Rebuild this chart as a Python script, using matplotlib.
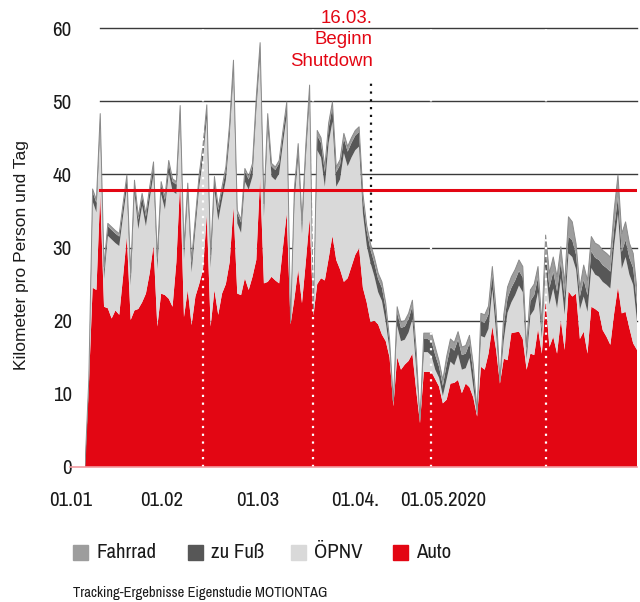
import numpy as np
import pandas as pd
import matplotlib
matplotlib.use("Agg")
import matplotlib.pyplot as plt
from matplotlib.patches import Rectangle

# ==== DATEN (km pro Person und Tag, 01.01.-25.05.2020) ====
auto = [
    0, 11, 24.5, 24.2, 37.4, 21.9, 21.7, 20.3, 21.4, 20.8,
    26, 31.5, 20.1, 21.4, 21.6, 22.5, 23.7, 26.5, 30.3, 19.2,
    23.7, 23.5, 23.0, 21.9, 28, 39.2, 20.5, 24.2, 19.4, 23.3,
    25, 27, 34.5, 19.2, 24.2, 20.8, 23.7, 25, 28, 35.6,
    23.7, 23.5, 25.8, 24.2, 26, 28.3, 39.7, 25.1, 25.3, 26,
    25.5, 25.1, 30, 34.7, 19.5, 23, 27, 22.4, 28, 34,
    20.7, 25, 25.8, 25.5, 28.5, 31.6, 28.3, 27, 25.3, 25.8,
    27.4, 29, 29.9, 24.5, 22.5, 19.8, 20, 19.5, 18.1, 17.2,
    15, 8.3, 15, 13.3, 14, 14.5, 15.5, 10.5, 6, 13,
    13, 13, 12, 11, 8.7, 9.2, 11.4, 11.5, 11.9, 10.1,
    11.4, 10.9, 9.5, 6.9, 13.7, 13.3, 15.5, 19.2, 16, 11.4,
    14.8, 14.6, 18.3, 18.4, 18.5, 17.5, 13.3, 15.5, 15.3, 18.9,
    15.5, 22.8, 16.4, 17.8, 15.5, 20.1, 16, 24, 23.3, 23.7,
    17.5, 18.5, 15.5, 21.9, 21.6, 21.2, 18.7, 17.8, 16.7, 21,
    24.6, 21, 21.2, 19, 16.9, 16]

oepnv = [
    0, 0.6, 11.8, 10.6, 9.2, 3.8, 9.9, 10.8, 9.2, 9.4,
    8.3, 6.7, 4.7, 16.1, 10.9, 13.2, 9.2, 10.1, 9.7, 7.8,
    13.6, 11.7, 17.2, 15.8, 9.3, 8.5, 7.9, 12.9, 7.2, 9.2,
    13.3, 15.2, 13.2, 8.0, 13.7, 12.9, 12.8, 14.2, 17.2, 18.2,
    9.6, 8.5, 13.2, 13.7, 13.7, 20.5, 16.5, 9.1, 21.2, 13.7,
    13.7, 15.0, 14.2, 13.4, 0.15, 13.2, 15.4, 9.5, 14.2, 16.4,
    0.2, 18.3, 16.5, 12.8, 15.8, 15.6, 10.0, 12.3, 17.6, 15.3,
    14.9, 14.3, 13.9, 10.2, 7.8, 8.1, 6.1, 4.4, 4.6, 2.6,
    1.0, 0.25, 4.3, 3.9, 3.4, 3.9, 4.7, 2.9, 0.2, 2.7,
    2.7, 2.2, 1.3, 1.2, 1.0, 2.8, 3.0, 2.4, 3.5, 3.2,
    2.1, 4.0, 1.4, 0.3, 4.2, 4.4, 3.4, 5.1, 2.3, 0.15,
    2.5, 6.5, 4.2, 5.1, 6.3, 6.4, 1.4, 5.2, 6.2, 5.0,
    2.1, 4.6, 5.8, 6.6, 6.2, 5.7, 4.8, 5.2, 5.4, 3.3,
    4.0, 4.8, 5.7, 5.3, 4.7, 4.8, 6.6, 7.1, 7.7, 9.3,
    10.0, 6.1, 7.5, 7.3, 8.0, 3.9]

fuss = [
    0, 0.3, 1.3, 1.3, 1.3, 1.3, 1.3, 1.3, 1.3, 1.3,
    1.3, 1.3, 1.3, 1.3, 1.3, 1.3, 1.3, 1.3, 1.3, 1.3,
    1.3, 1.3, 1.3, 1.3, 1.3, 1.3, 1.3, 1.3, 1.3, 1.3,
    1.3, 1.4, 1.4, 1.4, 1.4, 1.4, 1.4, 1.4, 1.4, 1.4,
    1.4, 1.4, 1.4, 1.4, 1.4, 1.4, 1.4, 1.4, 1.4, 1.4,
    1.4, 1.4, 1.4, 1.4, 0.1, 1.4, 1.4, 1.4, 1.4, 1.4,
    0.2, 2.0, 2.0, 2.0, 2.0, 2.0, 2.0, 2.0, 2.0, 2.0,
    2.0, 2.0, 2.0, 2.0, 2.0, 1.8, 1.8, 1.8, 1.8, 1.8,
    1.0, 0.3, 1.8, 1.8, 1.8, 1.8, 1.8, 1.8, 0.2, 1.8,
    1.8, 2.0, 2.0, 1.5, 1.4, 2.0, 2.0, 2.0, 2.0, 2.0,
    2.0, 2.0, 2.0, 0.2, 2.0, 2.0, 2.0, 2.0, 2.0, 0.15,
    2.0, 2.0, 2.0, 2.0, 2.0, 2.0, 1.0, 2.0, 2.0, 2.0,
    1.2, 2.3, 2.3, 2.3, 2.3, 2.3, 2.3, 2.3, 2.3, 2.0,
    1.8, 2.3, 2.3, 2.3, 2.3, 2.3, 2.3, 2.3, 2.3, 2.3,
    2.3, 2.3, 2.3, 2.3, 2.3, 2.3]

rad = [
    0, 0.1, 0.4, 0.4, 0.4, 0.4, 0.4, 0.4, 0.4, 0.4,
    0.4, 0.4, 0.4, 0.4, 0.4, 0.4, 0.4, 0.4, 0.4, 0.4,
    0.4, 0.4, 0.4, 0.4, 0.4, 0.4, 0.4, 0.4, 0.4, 0.4,
    0.4, 0.4, 0.4, 0.4, 0.4, 0.4, 0.4, 0.4, 0.4, 0.4,
    0.4, 0.4, 0.4, 0.4, 0.4, 0.4, 0.4, 0.4, 0.4, 0.4,
    0.4, 0.4, 0.4, 0.4, 0.05, 0.4, 0.4, 0.4, 0.4, 0.4,
    0.1, 0.7, 0.7, 0.7, 0.7, 0.7, 0.7, 0.7, 0.7, 0.7,
    0.7, 0.7, 0.7, 0.7, 0.7, 0.8, 0.8, 0.8, 0.8, 0.8,
    0.5, 0.15, 0.8, 0.8, 0.8, 0.8, 0.8, 0.8, 0.1, 0.8,
    0.8, 1.1, 1.1, 0.8, 0.8, 1.1, 1.1, 1.1, 1.1, 1.1,
    1.1, 1.1, 1.1, 0.1, 1.1, 1.1, 1.1, 1.1, 1.1, 0.1,
    1.5, 1.5, 1.5, 1.5, 1.5, 1.5, 0.7, 1.5, 1.5, 1.5,
    0.8, 2.0, 2.0, 2.0, 2.0, 2.0, 2.0, 2.7, 2.5, 1.5,
    1.2, 2.0, 2.0, 2.0, 2.0, 2.0, 2.0, 2.0, 2.0, 2.5,
    3.0, 2.5, 2.5, 2.0, 2.0, 2.0]

durchschnitt = 37.8          # rote Linie
shutdown = "2020-03-16"
monate = ["2020-02-01", "2020-03-01", "2020-04-01", "2020-05-01"]
monat_labels = ["01.01", "01.02", "01.03", "01.04.", "01.05.2020"]
serien_labels = ["Fahrrad", "zu Fuß", "ÖPNV", "Auto"]

# ==== FARBEN / SCHRIFT ====
rot = "#e30613"
farben = {"Auto": rot, "ÖPNV": "#d9d9d9", "zu Fuß": "#575757", "Fahrrad": "#9d9d9d"}
schmal = ["Archivo Narrow", "Liberation Sans", "DejaVu Sans"]
plt.rcParams["font.family"] = ["Liberation Sans", "DejaVu Sans"]

W, H = 640, 602
tage = pd.date_range("2020-01-01", periods=len(auto), freq="D")

fig = plt.figure(figsize=(W / 100, H / 100), dpi=100)
ax = fig.add_axes([85 / W, 135 / H, 552 / W, 439 / H])

# Gitterlinien hinter der Fläche
for y in [20, 30, 40, 50, 60]:
    ax.axhline(y, xmin=0.027, color="#3a3a3a", lw=1, zorder=0, clip_on=False)

# Shutdown-Linie (schwarz gepunktet, hinter der Fläche)
ax.vlines(pd.Timestamp(shutdown), 0, 52.5, colors="#111111",
          linestyles=(0, (1, 2.5)), lw=1.6, zorder=1)

ax.stackplot(tage, auto, oepnv, fuss, rad,
             colors=[farben["Auto"], farben["ÖPNV"], farben["zu Fuß"], farben["Fahrrad"]],
             lw=0, zorder=2)
gesamt = np.sum([auto, oepnv, fuss, rad], axis=0)
ax.plot(tage, gesamt, color="#8a8a8a", lw=0.7, zorder=2.1)

ax.axhline(durchschnitt, xmin=0.027, color=rot, lw=2.2, zorder=3)

# weiße gepunktete Monatslinien
ax.vlines(pd.to_datetime(monate), 0, 60, colors="white",
          linestyles=(0, (1, 2.5)), lw=1.6, zorder=4)

ax.axhline(0, xmin=-0.027, color="#f29aa0", lw=1.2, zorder=5, clip_on=False)

ax.set_xlim(tage[0], tage[-1])
ax.set_ylim(0, 60)
ax.set_yticks(range(0, 61, 10))
ax.set_xticks([])
ax.tick_params(axis="y", length=0, pad=9.5, labelsize=15, labelcolor="#1a1a1a")
for lab in ax.get_yticklabels():
    lab.set_family(schmal)
for s in ax.spines.values():
    s.set_visible(False)

txt = dict(family=schmal, color="#1a1a1a")

# x-Beschriftung
for lab, px in zip(monat_labels, [71, 162, 258, 355, 443]):
    fig.text(px / W, 1 - 500 / H, lab, ha="center", va="center", fontsize=15, **txt)

fig.text(22 / W, 1 - 255 / H, "Kilometer pro Person und Tag", rotation=90,
         ha="center", va="center", fontsize=12.5, color="#1a1a1a")

fig.text(373 / W, 1 - 40 / H, "16.03.\nBeginn\nShutdown", ha="right", va="center",
         color=rot, fontsize=13.4, linespacing=1.35)

# Legende
for lab, px in zip(serien_labels, [73, 188, 291, 393]):
    fig.patches.append(Rectangle((px / W, 1 - 560 / H), 15 / W, 15 / H,
                                 transform=fig.transFigure, color=farben[lab]))
    fig.text((px + 23) / W, 1 - 553 / H, lab, ha="left", va="center", fontsize=15, **txt)

fig.text(73 / W, 1 - 597 / H, "Tracking-Ergebnisse Eigenstudie MOTIONTAG",
         ha="left", va="baseline", fontsize=10.5, **txt)

fig.savefig("out.png", dpi=100)
